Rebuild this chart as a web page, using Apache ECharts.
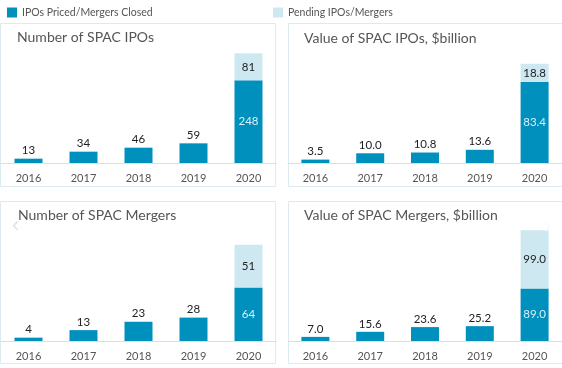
<!DOCTYPE html>
<html><head><meta charset="utf-8">
<script src="https://cdn.jsdelivr.net/npm/echarts@6/dist/echarts.min.js"></script>
<style>html,body{margin:0;padding:0;background:#fff}#c{width:562px;height:368px}</style>
</head><body><div id="c"></div>
<script>
const years = ['2016','2017','2018','2019','2020'];
const titles = ['Number of SPAC IPOs','Value of SPAC IPOs, $billion','Number of SPAC Mergers','Value of SPAC Mergers, $billion'];
const ipoCount = [13,34,46,59,248];
const ipoCountPending = [null,null,null,null,81];
const ipoValue = [3.5,10.0,10.8,13.6,83.4];
const ipoValuePending = [null,null,null,null,18.8];
const mergerCount = [4,13,23,28,64];
const mergerCountPending = [null,null,null,null,51];
const mergerValue = [7.0,15.6,23.6,25.2,89.0];
const mergerValuePending = [null,null,null,null,99.0];
const decimals = [0,1,0,1];

const DARK = '#0090bd', LIGHT = '#cde8f1', FONT = 'Lato, "Open Sans", sans-serif';
const closed = [ipoCount, ipoValue, mergerCount, mergerValue];
const pending = [ipoCountPending, ipoValuePending, mergerCountPending, mergerValuePending];
const grids = [
  {left:1, top:53, width:275, height:110},
  {left:288, top:63, width:275, height:100},
  {left:1, top:244, width:275, height:97},
  {left:288, top:229, width:275, height:112}
];
const yMax = [330, 103, 116, 190];
const panels = [[0.5,23.5,275,163],[288.5,23.5,290,163],[0.5,201.5,275,162],[288.5,201.5,290,162]];
const titlePos = [[17,37],[304,38],[18,215],[304,215]];

const chart = echarts.init(document.getElementById('c'), null, {renderer:'canvas'});
const xAxis = [], yAxis = [], series = [], graphic = [];
for (let i = 0; i < 4; i++) {
  xAxis.push({type:'category', gridIndex:i, data:years,
    axisLine:{lineStyle:{color:'#cfe3ec', width:1}}, axisTick:{show:false},
    axisLabel:{color:'#555', fontSize:11, margin:10, fontFamily:FONT}});
  yAxis.push({type:'value', gridIndex:i, min:0, max:yMax[i], show:false, splitLine:{show:false}});
  const d = decimals[i];
  series.push({name:'IPOs Priced/Mergers Closed', type:'bar', stack:'s'+i, xAxisIndex:i, yAxisIndex:i,
    barWidth:28, itemStyle:{color:DARK},
    data: closed[i].map((v,k) => {
      const last = pending[i][k] != null;
      return {value:v, label:{show:true, position: last ? 'inside' : 'top', distance:2,
        color: last ? '#d8f0f8' : '#222', fontSize:11.5, fontFamily:FONT,
        formatter: () => v.toFixed(d)}};
    })});
  series.push({name:'Pending IPOs/Mergers', type:'bar', stack:'s'+i, xAxisIndex:i, yAxisIndex:i,
    barWidth:28, itemStyle:{color:LIGHT},
    label:{show:true, position:'inside', color:'#222', fontSize:11.5, fontFamily:FONT,
      formatter: p => p.value == null ? '' : Number(p.value).toFixed(d)},
    data: pending[i]});
  const p = panels[i];
  graphic.push({type:'rect', z:0, silent:true, shape:{x:p[0], y:p[1], width:p[2], height:p[3]},
    style:{fill:'none', stroke:'#dcebf2', lineWidth:1}});
  graphic.push({type:'text', x:titlePos[i][0], y:titlePos[i][1],
    style:{text:titles[i], fill:'#555', font:'14px ' + FONT, textVerticalAlign:'middle'}});
}
graphic.push({type:'text', x:12, y:226, style:{text:'‹', fill:'#e4e4e4', font:'22px sans-serif', textVerticalAlign:'middle'}});
graphic.push({type:'text', x:544, y:227, z:10, style:{text:'›', fill:'#f4fbfd', font:'22px sans-serif', textVerticalAlign:'middle'}});

chart.setOption({
  animation:false,
  grid: grids,
  xAxis, yAxis, series, graphic,
  legend: [
    {data:['IPOs Priced/Mergers Closed'], left:2, top:2, itemWidth:10, itemHeight:10, icon:'rect',
      itemGap:5, textStyle:{color:'#555', fontSize:10.5, fontFamily:FONT}},
    {data:['Pending IPOs/Mergers'], left:268, top:2, itemWidth:10, itemHeight:10, icon:'rect',
      textStyle:{color:'#555', fontSize:10.5, fontFamily:FONT}}
  ]
});
</script></body></html>
